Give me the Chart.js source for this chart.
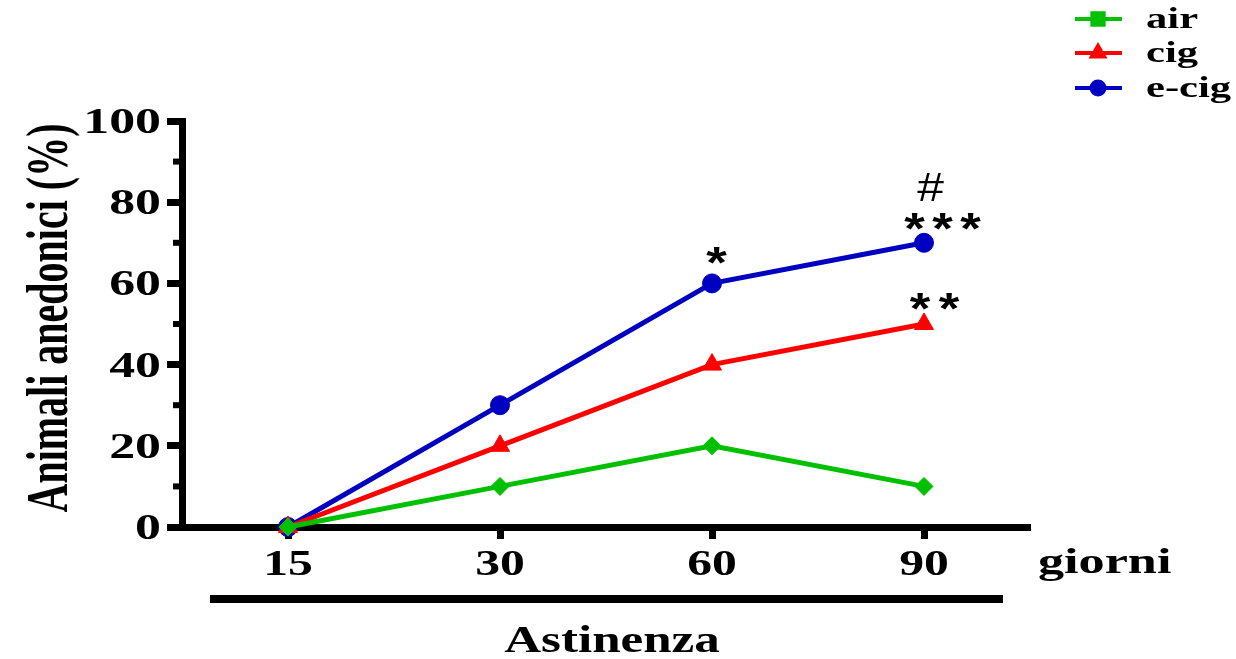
<!DOCTYPE html>
<html>
<head>
<meta charset="utf-8">
<style>
  html, body { margin: 0; padding: 0; background: #fff; }
  #wrap { width: 1236px; height: 659px; }
</style>
<script src="https://cdn.jsdelivr.net/npm/chart.js@4.4.1/dist/chart.umd.min.js"></script>
</head>
<body>
<div id="wrap"><canvas id="anedoniaChart" width="1236" height="659"></canvas></div>
<script>
// dati: giorni di astinenza e % di animali anedonici
const giorni = ['15', '30', '60', '90'];
const airData = [0, 10, 20, 10];
const cigData = [0, 20, 40, 50];
const ecigData = [0, 30, 60, 70];
const yTicks = [0, 20, 40, 60, 80, 100];
const yMinorTicks = [10, 30, 50, 70, 90];
// significatività: serie (indice dataset), punto, testo
const sigSerie = [2, 2, 2, 1];
const sigPunto = [2, 3, 3, 3];
const sigTesto = ['*', '#', '***', '**'];

const VERDE = '#00c000';
const ROSSO = '#ff0000';
const BLU = '#0000c0';
const SERIF = '"Liberation Serif", "Times New Roman", serif';
const SANS = '"Liberation Sans", Arial, sans-serif';

// testo "allargato" in orizzontale come nell'originale
function testoLargo(ctx, txt, x, y, font, align, k) {
    ctx.save();
    ctx.font = font;
    ctx.textAlign = align;
    ctx.textBaseline = 'alphabetic';
    ctx.translate(x, y);
    ctx.scale(k, 1);
    ctx.fillText(txt, 0, 0);
    ctx.restore();
}

// carattere centrato sull'inchiostro
function simbolo(ctx, ch, cx, cy, font, k) {
    ctx.save();
    ctx.font = font;
    ctx.textAlign = 'left';
    ctx.textBaseline = 'alphabetic';
    const m = ctx.measureText(ch);
    const w = m.actualBoundingBoxRight + m.actualBoundingBoxLeft;
    const h = m.actualBoundingBoxAscent + m.actualBoundingBoxDescent;
    ctx.translate(cx, cy);
    ctx.scale(k, 1);
    ctx.fillText(ch, m.actualBoundingBoxLeft - w / 2, m.actualBoundingBoxAscent - h / 2);
    ctx.restore();
}

function marker(ctx, style, r, x, y, colore) {
    ctx.save();
    ctx.fillStyle = colore;
    ctx.strokeStyle = colore;
    Chart.helpers.drawPoint(ctx, { pointStyle: style, radius: r, borderWidth: 1, rotation: 0 }, x, y);
    ctx.restore();
}

const sigOffset = { '*': [5, -28, 0], '#': [7, -56, 0], '***': [19, -21, 28], '**': [11, -23, 29] };

const testiPlugin = {
    id: 'testi',
    afterDraw(chart) {
        const { ctx, chartArea: a, scales: { x, y } } = chart;
        ctx.save();
        ctx.fillStyle = '#000';
        ctx.strokeStyle = '#000';

        // tacche minori asse y
        ctx.lineWidth = 6;
        yMinorTicks.forEach(v => {
            const py = y.getPixelForValue(v);
            ctx.beginPath();
            ctx.moveTo(a.left - 9, py);
            ctx.lineTo(a.left, py);
            ctx.stroke();
        });

        // etichette asse y
        const fontTick = 'bold 36px ' + SERIF;
        yTicks.forEach(v => {
            testoLargo(ctx, String(v), a.left - 21, y.getPixelForValue(v) + 12, fontTick, 'right', 1.44);
        });
        // etichette asse x
        giorni.forEach((g, i) => {
            testoLargo(ctx, g, x.getPixelForValue(i), 575, fontTick, 'center', 1.38);
        });
        testoLargo(ctx, 'giorni', a.right + 8, 573, fontTick, 'left', 1.45);

        // barra e titolo asse x
        ctx.fillRect(a.left + 28, 595, a.right - a.left - 55, 8);
        testoLargo(ctx, 'Astinenza', (a.left + a.right) / 2 + 6, 652, 'bold 37px ' + SERIF, 'center', 1.38);

        // titolo asse y
        ctx.save();
        ctx.font = 'bold 40px ' + SERIF;
        ctx.textAlign = 'center';
        ctx.translate(67, 318);
        ctx.rotate(-Math.PI / 2);
        ctx.scale(1, 1.5);
        ctx.fillText('Animali anedonici (%)', 0, 0);
        ctx.restore();

        // significatività
        sigTesto.forEach((t, i) => {
            const meta = chart.getDatasetMeta(sigSerie[i]);
            const p = meta.data[sigPunto[i]];
            const off = sigOffset[t];
            const cx = p.x + off[0], cy = p.y + off[1];
            if (t === '#') {
                simbolo(ctx, '#', cx, cy, '40px ' + SANS, 1.2);
            } else {
                const n = t.length;
                for (let j = 0; j < n; j++) {
                    simbolo(ctx, '*', cx + (j - (n - 1) / 2) * off[2], cy, 'bold 44px ' + SANS, 1.2);
                }
            }
        });

        // legenda
        const voci = chart.data.datasets;
        const righe = [19, 53, 88];
        const stileLeg = ['rect', 'triangle', 'circle'];
        const raggioLeg = [8, 7, 6.5];
        voci.forEach((ds, i) => {
            const ry = righe[i];
            ctx.strokeStyle = ds.borderColor;
            ctx.lineWidth = 4;
            ctx.beginPath();
            ctx.moveTo(1075, ry);
            ctx.lineTo(1122, ry);
            ctx.stroke();
            marker(ctx, stileLeg[i], raggioLeg[i], 1098, ry, ds.borderColor);
            ctx.fillStyle = '#000';
            testoLargo(ctx, ds.label, 1146, ry + 9, 'bold 30px ' + SERIF, 'left', 1.42);
        });
        ctx.restore();
    }
};

const ctx = document.getElementById('anedoniaChart').getContext('2d');
const anedoniaChart = new Chart(ctx, {
    type: 'line',
    data: {
        labels: giorni,
        datasets: [{
            label: 'air',
            data: airData,
            borderColor: VERDE,
            backgroundColor: VERDE,
            pointStyle: 'rectRot',
            pointRadius: 9,
            borderWidth: 5,
            pointBorderWidth: 1,
            clip: false
        }, {
            label: 'cig',
            data: cigData,
            borderColor: ROSSO,
            backgroundColor: ROSSO,
            pointStyle: 'triangle',
            pointRadius: 11,
            borderWidth: 5,
            pointBorderWidth: 1,
            clip: false
        }, {
            label: 'e-cig',
            data: ecigData,
            borderColor: BLU,
            backgroundColor: BLU,
            pointStyle: 'circle',
            pointRadius: 9.5,
            borderWidth: 5,
            pointBorderWidth: 1,
            clip: false
        }]
    },
    options: {
        responsive: false,
        animation: false,
        layout: {
            padding: { left: 0, top: 121, right: 206, bottom: 0 }
        },
        plugins: {
            legend: { display: false },
            tooltip: { enabled: false }
        },
        scales: {
            x: {
                offset: true,
                afterFit(s) { s.height = 132; },
                grid: {
                    drawOnChartArea: false,
                    drawTicks: true,
                    tickLength: 12,
                    tickWidth: 7,
                    tickColor: '#000'
                },
                border: { display: true, color: '#000', width: 7 },
                ticks: { display: false }
            },
            y: {
                min: 0,
                max: 100,
                afterFit(s) { s.width = 182; },
                afterBuildTicks(s) { s.ticks = yTicks.map(v => ({ value: v })); },
                grid: {
                    drawOnChartArea: false,
                    drawTicks: true,
                    tickLength: 15,
                    tickWidth: 7,
                    tickColor: '#000'
                },
                border: { display: true, color: '#000', width: 7 },
                ticks: { display: false }
            }
        }
    },
    plugins: [testiPlugin]
});
</script>
</body>
</html>
